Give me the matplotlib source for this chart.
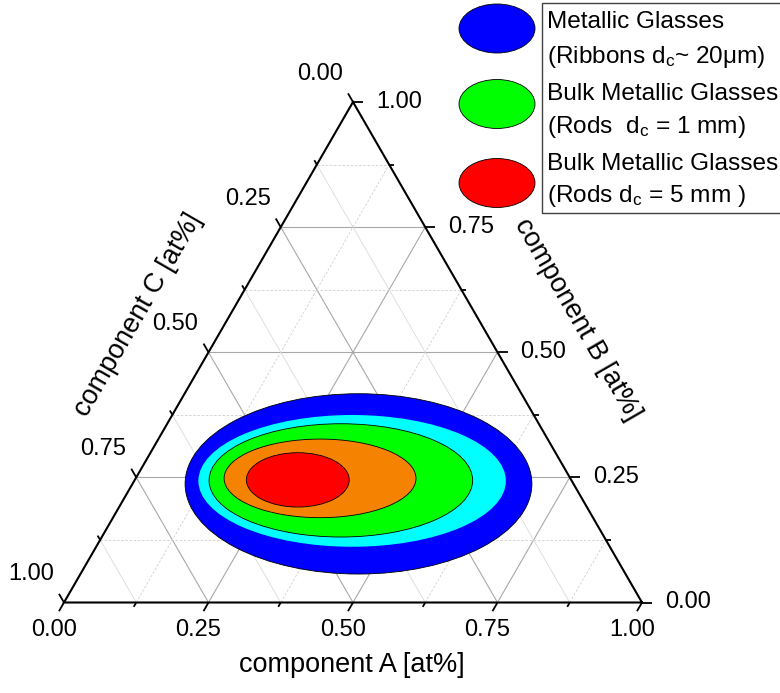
import numpy as np
import matplotlib
matplotlib.use("Agg")
import matplotlib.pyplot as plt
from matplotlib.patches import Ellipse, Rectangle

plt.rcParams['font.family'] = ['Liberation Sans', 'DejaVu Sans']
plt.rcParams['mathtext.fontset'] = 'custom'
plt.rcParams['mathtext.rm'] = 'Liberation Sans'
plt.rcParams['mathtext.it'] = 'Liberation Sans:italic'

# ---- data -------------------------------------------------------------
tick_values = [0.0, 0.25, 0.5, 0.75, 1.0]
tick_labels = ["0.00", "0.25", "0.50", "0.75", "1.00"]
minor_values = [0.125, 0.375, 0.625, 0.875]

axis_titles = ["component A [at%]", "component B [at%]", "component C [at%]"]

# glass-forming regions, outermost first: centre composition (A, B)
# and semi-axes (horizontal, vertical) in composition units
region_colors = ["#0000ff", "#00ffff", "#00ff00", "#f58200", "#ff0000"]
region_edges = [True, False, True, True, True]
center_A = [0.391, 0.377, 0.357, 0.319, 0.282]
center_B = [0.237, 0.243, 0.244, 0.248, 0.245]
semi_h = [0.300, 0.266, 0.228, 0.166, 0.089]
semi_v = [0.156, 0.114, 0.098, 0.068, 0.047]

legend_colors = ["#0000ff", "#00ff00", "#ff0000"]
legend_lines = [
    ("Metallic Glasses", r"(Ribbons d$_\mathregular{c}$~ 20μm)"),
    ("Bulk Metallic Glasses", r"(Rods  d$_\mathregular{c}$ = 1 mm)"),
    ("Bulk Metallic Glasses", r"(Rods d$_\mathregular{c}$ = 5 mm )"),
]

# ---- figure -----------------------------------------------------------
W, H, DPI = 780, 693, 100
fig = plt.figure(figsize=(W / DPI, H / DPI), dpi=DPI)
ax = fig.add_axes([64 / W, (H - 602.5) / H, 578 / W, 500.5 / H])
h3 = np.sqrt(3) / 2
ax.set_xlim(0, 1)
ax.set_ylim(0, h3)
ax.set_axis_off()


def xy(A, B):
    """Ternary composition (A, B, C=1-A-B) -> Cartesian triangle coords."""
    return A + 0.5 * B, h3 * B


# grid lines
major_style = dict(color="#a8a8a8", lw=0.8, zorder=1)
for v in tick_values[1:-1]:
    # constant A (parallel to left edge)
    ax.plot(*zip(xy(v, 0), xy(v, 1 - v)), **major_style)
    # constant B (horizontal)
    ax.plot(*zip(xy(0, v), xy(1 - v, v)), **major_style)
    # constant C (parallel to right edge)
    ax.plot(*zip(xy(1 - v, 0), xy(0, 1 - v)), **major_style)
for v in minor_values:
    ax.plot(*zip(xy(v, 0), xy(v, 1 - v)), color="#cfcfcf", lw=0.6,
            ls=(0, (3, 2)), zorder=1)
    ax.plot(*zip(xy(0, v), xy(1 - v, v)), color="#cfcfcf", lw=0.6,
            ls=(0, (3, 2)), zorder=1)
    ax.plot(*zip(xy(1 - v, 0), xy(0, 1 - v)), color="#dadada", lw=0.6,
            zorder=1)

# regions
for col, edge, a, b, sh, sv in zip(region_colors, region_edges, center_A,
                                   center_B, semi_h, semi_v):
    ax.add_patch(Ellipse(xy(a, b), 2 * sh, 2 * sv, facecolor=col,
                         edgecolor="black" if edge else "none",
                         lw=0.6, zorder=3))

# triangle frame
tri = [xy(1, 0), xy(0, 1), xy(0, 0), xy(1, 0)]
ax.plot(*zip(*tri), color="black", lw=1.5, zorder=4, clip_on=False,
        solid_joinstyle="miter")

# ticks
L_major, L_minor = 10 / 578, 5 / 578
dir_A = np.array([-0.5, -h3])
dir_B = np.array([1.0, 0.0])
dir_C = np.array([-0.5, h3])


def tick(p, d, length):
    p = np.array(p)
    q = p + d * length
    ax.plot([p[0], q[0]], [p[1], q[1]], color="black", lw=1.3,
            zorder=4, clip_on=False, solid_capstyle="butt")


fs_tick = 17
for v, lab in zip(tick_values, tick_labels):
    pa = xy(v, 0)
    pb = xy(1 - v, v)
    pc = xy(0, 1 - v)
    tick(pa, dir_A, L_major)
    tick(pb, dir_B, L_major)
    tick(pc, dir_C, L_major)
    ax.annotate(lab, pa, xytext=(-10, -27), textcoords="offset pixels",
                ha="center", va="center", fontsize=fs_tick)
    ax.annotate(lab, pb, xytext=(23, 0), textcoords="offset pixels",
                ha="left", va="center", fontsize=fs_tick)
    ax.annotate(lab, pc, xytext=(-33, 28), textcoords="offset pixels",
                ha="center", va="center", fontsize=fs_tick)
for v in minor_values:
    tick(xy(v, 0), dir_A, L_minor)
    tick(xy(1 - v, v), dir_B, L_minor)
    tick(xy(0, 1 - v), dir_C, L_minor)

# axis titles
fs_title = 19.5
ax.text(0.498, -0.108, axis_titles[0], ha="center", va="center",
        fontsize=fs_title)
ax.text(0.8875, 0.490, axis_titles[1], ha="center", va="center",
        rotation=-60, rotation_mode="anchor", fontsize=fs_title)
ax.text(0.128, 0.497, axis_titles[2], ha="center", va="center",
        rotation=60, rotation_mode="anchor", fontsize=fs_title)

# legend
fig.patches.append(Rectangle((541.7 / W, 1 - 213 / H), 260 / W, 210 / H,
                             transform=fig.transFigure, facecolor="white",
                             edgecolor="#404040", lw=1.0))
swatch_y = [28.5, 104, 183]
line_y = [(28.3, 63), (100, 133), (170, 202)]
fs_leg = 17.6
for col, sy, (l1, l2), (y1, y2) in zip(legend_colors, swatch_y,
                                       legend_lines, line_y):
    fig.patches.append(Ellipse((497 / W, 1 - sy / H), 76 / W, 49 / H,
                               transform=fig.transFigure, facecolor=col,
                               edgecolor="black", lw=0.6))
    fig.text(547 / W, 1 - y1 / H, l1, ha="left", va="baseline",
             fontsize=fs_leg)
    fig.text(547 / W, 1 - y2 / H, l2, ha="left", va="baseline",
             fontsize=fs_leg)

fig.savefig("out.png", dpi=DPI)
